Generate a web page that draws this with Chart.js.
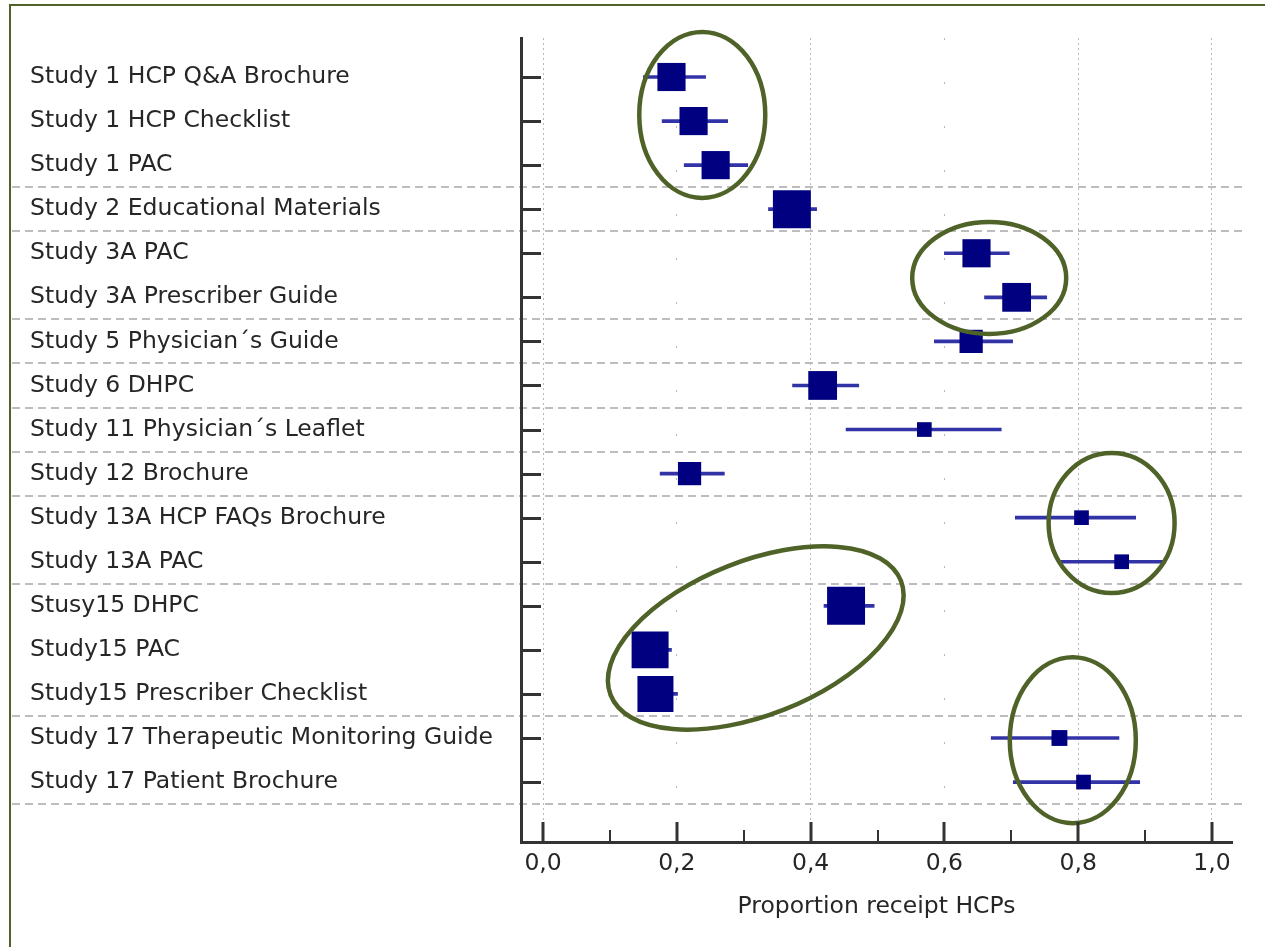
<!DOCTYPE html>
<html>
<head>
<meta charset="utf-8">
<script src="https://cdn.jsdelivr.net/npm/chart.js@4.4.0/dist/chart.umd.min.js"></script>
<style>
html,body{margin:0;padding:0;background:#fff;overflow:hidden}
#wrap{position:absolute;left:0;top:0;width:1265px;height:947px}
</style>
</head>
<body>
<div id="wrap"><canvas id="c" width="1265" height="947"></canvas></div>
<script>
// ---- data ----
const categories = [
  'Study 1 HCP Q&A Brochure',
  'Study 1 HCP Checklist',
  'Study 1 PAC',
  'Study 2 Educational Materials',
  'Study 3A PAC',
  'Study 3A Prescriber Guide',
  'Study 5 Physician\u00B4s Guide',
  'Study 6 DHPC',
  'Study 11 Physician\u00B4s Leaflet',
  'Study 12 Brochure',
  'Study 13A HCP FAQs Brochure',
  'Study 13A PAC',
  'Stusy15 DHPC',
  'Study15 PAC',
  'Study15 Prescriber Checklist',
  'Study 17 Therapeutic Monitoring Guide',
  'Study 17 Patient Brochure'
];
const proportions = [0.192, 0.225, 0.258, 0.372, 0.648, 0.708, 0.640, 0.418, 0.570, 0.219, 0.805, 0.865, 0.453, 0.160, 0.168, 0.772, 0.808];
const ciLower     = [0.150, 0.178, 0.211, 0.337, 0.600, 0.660, 0.585, 0.373, 0.453, 0.175, 0.706, 0.774, 0.420, 0.140, 0.145, 0.670, 0.703];
const ciUpper     = [0.243, 0.276, 0.306, 0.409, 0.697, 0.753, 0.702, 0.472, 0.685, 0.271, 0.886, 0.930, 0.495, 0.192, 0.201, 0.861, 0.892];
const weights     = [22, 22, 22, 40, 22, 23, 15, 23, 6, 15, 6, 6, 40, 38, 36, 7, 6];
const xTickValues = [0, 0.2, 0.4, 0.6, 0.8, 1.0];
const xTickLabels = ['0,0', '0,2', '0,4', '0,6', '0,8', '1,0'];
const xMinorTicks = [0.1, 0.3, 0.5, 0.7, 0.9];
const groupBreaksAfter = [2, 3, 5, 6, 7, 8, 9, 11, 14, 16];
const axisTitle = 'Proportion receipt HCPs';
// highlight ellipses: centre in data units (x value, row index)
const highlightX   = [0.238, 0.667, 0.850, 0.318, 0.792];
const highlightRow = [0.86, 4.56, 10.12, 12.73, 15.05];

// ---- styling (not data) ----
const ellipseShape = [
  {rx: 63, ry: 83, rot: 0},
  {rx: 77, ry: 56, rot: 0},
  {rx: 63, ry: 70, rot: 0},
  {rx: 156, ry: 77, rot: -21.5},
  {rx: 63, ry: 83, rot: 0}
];
const FONT = "'DejaVu Sans', 'Noto Sans', sans-serif";
const FONT_SIZE = 23.5;
const AXIS = '#333333';
const TEXT = '#262626';

const decor = {
  id: 'decor',
  beforeDraw(chart) {
    const {ctx, scales: {x, y}} = chart;
    ctx.save();
    // frame
    ctx.strokeStyle = '#4f6228';
    ctx.lineWidth = 2;
    ctx.strokeRect(10, 5, 1300, 1000);
    // group separators
    ctx.strokeStyle = '#bdbdbd';
    ctx.lineWidth = 2;
    ctx.setLineDash([8, 5]);
    groupBreaksAfter.forEach(i => {
      const py = Math.round(y.getPixelForValue(i + 0.5));
      ctx.beginPath();
      ctx.moveTo(12, py);
      ctx.lineTo(x.right + 10, py);
      ctx.stroke();
    });
    ctx.restore();
  },
  afterDatasetsDraw(chart) {
    const {ctx, scales: {x, y}} = chart;
    ctx.save();
    ctx.strokeStyle = '#4f6228';
    ctx.lineWidth = 4.5;
    highlightX.forEach((v, i) => {
      const s = ellipseShape[i];
      ctx.beginPath();
      ctx.ellipse(x.getPixelForValue(v), y.getPixelForValue(highlightRow[i]), s.rx, s.ry, s.rot * Math.PI / 180, 0, Math.PI * 2);
      ctx.stroke();
    });
    ctx.restore();
  },
  afterDraw(chart) {
    const {ctx, chartArea, scales: {x, y}} = chart;
    ctx.save();
    ctx.strokeStyle = AXIS;
    ctx.lineCap = 'butt';
    // inward y ticks
    ctx.lineWidth = 3;
    categories.forEach((c, i) => {
      const py = Math.round(y.getPixelForValue(i)) + 0.5;
      ctx.beginPath();
      ctx.moveTo(chartArea.left, py);
      ctx.lineTo(chartArea.left + 20, py);
      ctx.stroke();
    });
    // inward x ticks
    xTickValues.forEach(v => {
      const px = Math.round(x.getPixelForValue(v));
      ctx.beginPath();
      ctx.moveTo(px, chartArea.bottom);
      ctx.lineTo(px, chartArea.bottom - 20);
      ctx.stroke();
    });
    ctx.lineWidth = 2;
    xMinorTicks.forEach(v => {
      const px = Math.round(x.getPixelForValue(v));
      ctx.beginPath();
      ctx.moveTo(px, chartArea.bottom);
      ctx.lineTo(px, chartArea.bottom - 12);
      ctx.stroke();
    });
    ctx.restore();
  }
};

new Chart(document.getElementById('c'), {
  type: 'scatter',
  data: {
    datasets: [
      {
        type: 'scatter',
        data: proportions.map((v, i) => ({x: v, y: i})),
        pointStyle: 'rect',
        pointRadius: weights.map(w => 6 * Math.sqrt(w) / Math.SQRT2),
        backgroundColor: '#000080',
        borderColor: '#000080',
        borderWidth: 0,
        order: 0
      },
      {
        type: 'bar',
        indexAxis: 'y',
        data: ciLower.map((lo, i) => ({x: [lo, ciUpper[i]], y: i})),
        backgroundColor: '#3333a8',
        borderWidth: 0,
        barThickness: 3,
        order: 1
      }
    ]
  },
  options: {
    responsive: false,
    animation: false,
    events: [],
    devicePixelRatio: 1,
    layout: {padding: {left: 30, top: 38, right: 33, bottom: 0}},
    plugins: {legend: {display: false}, tooltip: {enabled: false}},
    scales: {
      x: {
        type: 'linear',
        min: -0.033,
        max: 1.030,
        offset: false,
        afterBuildTicks: s => { s.ticks = xTickValues.map(v => ({value: v})); },
        afterFit: s => { s.height = 105; },
        ticks: {
          callback: v => xTickLabels[xTickValues.indexOf(v)],
          font: {family: FONT, size: FONT_SIZE},
          color: TEXT,
          padding: 8,
          maxRotation: 0
        },
        grid: {
          color: '#b8b8b8',
          lineWidth: 1,
          drawTicks: false
        },
        border: {
          display: true,
          color: AXIS,
          width: 3,
          dash: ctx => (ctx.tick && (Math.abs(ctx.tick.value - 0.2) < 1e-6 || Math.abs(ctx.tick.value - 0.6) < 1e-6)) ? [2, 42] : [2, 3]
        },
        title: {
          display: true,
          text: axisTitle,
          font: {family: FONT, size: FONT_SIZE},
          color: TEXT,
          padding: {top: 4, bottom: 26}
        }
      },
      y: {
        type: 'linear',
        reverse: true,
        min: -0.885,
        max: 17.36,
        offset: false,
        afterBuildTicks: s => { s.ticks = categories.map((c, i) => ({value: i})); },
        afterFit: s => { s.width = 491; },
        ticks: {
          callback: v => categories[v],
          font: {family: FONT, size: FONT_SIZE},
          color: TEXT,
          crossAlign: 'far',
          padding: 8,
          autoSkip: false
        },
        grid: {display: true, color: 'rgba(0,0,0,0)', drawTicks: false, offset: false},
        border: {display: true, color: AXIS, width: 3}
      }
    }
  },
  plugins: [decor]
});
</script>
</body>
</html>
